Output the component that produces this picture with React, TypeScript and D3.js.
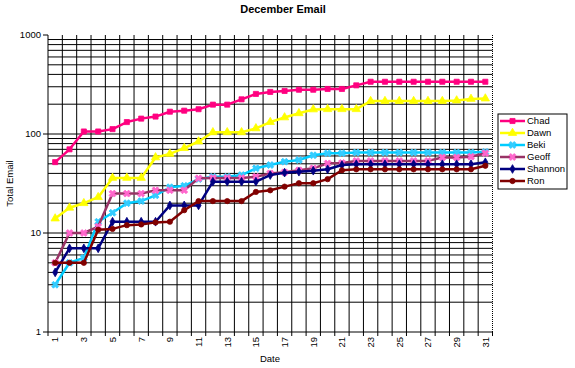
import React from 'react';
import * as d3 from 'd3';

const days = d3.range(1, 32);

const chad = [52, 70, 106, 106, 112, 132, 143, 150, 168, 172, 178, 198, 198, 224, 254, 266, 272, 280, 280, 285, 285, 310, 337, 337, 337, 337, 337, 337, 337, 337, 337];
const dawn = [14, 18, 20, 23, 36, 36, 36, 58, 63, 72, 84, 104, 104, 104, 114, 132, 147, 162, 177, 178, 178, 178, 215, 215, 215, 215, 215, 215, 218, 226, 228];
const beki = [3, 5, 5.6, 13, 16, 20, 21, 24, 29, 30, 35, 37, 37, 38.5, 45, 48.6, 52.5, 54.6, 61, 64, 64, 65, 65, 65, 65, 65, 65, 65, 65, 65, 66];
const geoff = [5, 10, 10, 11.6, 25, 25, 25, 27, 27, 27, 35.7, 36, 36, 36, 37, 40, 41, 43, 45, 50.5, 51, 53.5, 53.5, 53.5, 53.5, 53.5, 53.5, 58, 58, 59, 64];
const shannon = [4, 7, 7, 7, 13, 13, 13, 13, 19, 19, 19, 33, 33, 33, 33, 38.5, 40.7, 41.6, 42.6, 44, 48.6, 49.5, 49.5, 49.5, 49.5, 49.5, 49.5, 49.5, 49.5, 49.5, 51.8];
const ron = [5, 5, 5, 10.8, 11, 12, 12.2, 12.8, 13, 17, 21, 21, 21, 21, 26, 27, 29.4, 31.8, 31.8, 35, 43, 44, 44, 44, 44, 44, 44, 44, 44, 44, 47.8];

const seriesNames = ['Chad', 'Dawn', 'Beki', 'Geoff', 'Shannon', 'Ron'];
const seriesValues = [chad, dawn, beki, geoff, shannon, ron];
const yTickLabels = [1, 10, 100, 1000];

const styles = [
  { line: '#ff0080', marker: '#ff0080', shape: d3.symbolSquare, size: 26, rot: 0 },
  { line: '#ffff00', marker: '#ffff00', shape: d3.symbolTriangle, size: 30, rot: 0 },
  { line: '#00ccff', marker: '#33ccff', shape: d3.symbolCross, size: 30, rot: 45 },
  { line: '#993366', marker: '#ff66cc', shape: d3.symbolCross, size: 30, rot: 45 },
  { line: '#000080', marker: '#000080', shape: d3.symbolDiamond, size: 22, rot: 0 },
  { line: '#800000', marker: '#800000', shape: d3.symbolCircle, size: 22, rot: 0 },
];

const font = 'Liberation Sans, Arial, sans-serif';

export default function App() {
  const left = 48;
  const right = 492.5;
  const top = 35;
  const bottom = 332;

  const x = d3.scaleBand<number>().domain(days).range([left, right]).padding(0);
  const bw = x.bandwidth();
  const cx = (d: number) => (x(d) as number) + bw / 2;
  const y = d3.scaleLog().domain([1, 1000]).range([bottom, top]);

  const gridY: number[] = [];
  for (let p = 1; p < 1000; p *= 10) {
    for (let k = 1; k <= 9; k++) if (k * p > 1) gridY.push(k * p);
  }
  const boundaries = d3.range(1, 31).map((i) => left + i * bw);

  const line = d3
    .line<number>()
    .x((_, i) => cx(days[i]))
    .y((v) => y(v));

  return (
    <svg width={575} height={368} style={{ position: 'absolute', left: 0, top: 0, background: '#fff' }}>
      <text x={283} y={13} textAnchor="middle" fontFamily={font} fontSize={11} fontWeight="bold">
        December Email
      </text>

      {/* gridlines */}
      {gridY.map((v) => (
        <line key={'h' + v} x1={left} x2={right} y1={y(v)} y2={y(v)} stroke="#000" strokeWidth={1}
          strokeDasharray={v === 1000 ? '1,1' : undefined} />
      ))}
      {boundaries.map((b, i) => (
        <line key={'v' + i} x1={b} x2={b} y1={top} y2={bottom} stroke="#000" strokeWidth={1} />
      ))}
      <line x1={right} x2={right} y1={top} y2={bottom} stroke="#000" strokeDasharray="1,1" />

      {/* axes */}
      <line x1={left} x2={left} y1={top} y2={bottom} stroke="#000" />
      <line x1={left} x2={right} y1={bottom} y2={bottom} stroke="#000" />
      {yTickLabels.map((v) => (
        <g key={'yt' + v}>
          <line x1={left - 5} x2={left} y1={y(v)} y2={y(v)} stroke="#000" />
          <text x={left - 7} y={y(v)} dy="0.35em" textAnchor="end" fontFamily={font} fontSize={9.5}>
            {v}
          </text>
        </g>
      ))}
      {[left, ...boundaries, right].map((b, i) => (
        <line key={'xt' + i} x1={b} x2={b} y1={bottom} y2={bottom + 4} stroke="#000" />
      ))}
      {days.filter((d) => d % 2 === 1).map((d) => (
        <text key={'xl' + d} transform={`translate(${cx(d)},${bottom + 5}) rotate(-90)`} dy="0.35em"
          textAnchor="end" fontFamily={font} fontSize={9.5}>
          {d}
        </text>
      ))}
      <text x={270} y={362} textAnchor="middle" fontFamily={font} fontSize={9.5}>Date</text>
      <text transform={`translate(13,${(top + bottom) / 2}) rotate(-90)`} textAnchor="middle" fontFamily={font} fontSize={9.5}>
        Total Email
      </text>

      {/* series */}
      {seriesValues.map((vals, si) => {
        const st = styles[si];
        const sym = d3.symbol().type(st.shape).size(st.size)();
        return (
          <g key={seriesNames[si]}>
            <path d={line(vals) || ''} fill="none" stroke={st.line} strokeWidth={2.5} strokeLinejoin="round" />
            {vals.map((v, i) => (
              <path key={i} d={sym || ''} transform={`translate(${cx(days[i])},${y(v)}) rotate(${st.rot})`}
                fill={st.marker} stroke={st.marker} strokeWidth={0.8} />
            ))}
          </g>
        );
      })}

      {/* legend */}
      <rect x={498} y={114} width={69} height={75} fill="#fff" stroke="#000" />
      {seriesNames.map((name, i) => {
        const st = styles[i];
        const ly = 121 + i * 12;
        const sym = d3.symbol().type(st.shape).size(st.size)();
        return (
          <g key={'lg' + name}>
            <line x1={500} x2={525} y1={ly} y2={ly} stroke={st.line} strokeWidth={2.5} />
            <path d={sym || ''} transform={`translate(512.5,${ly}) rotate(${st.rot})`} fill={st.marker} stroke={st.marker} strokeWidth={0.8} />
            <text x={527} y={ly} dy="0.35em" fontFamily={font} fontSize={9.5}>{name}</text>
          </g>
        );
      })}
    </svg>
  );
}
